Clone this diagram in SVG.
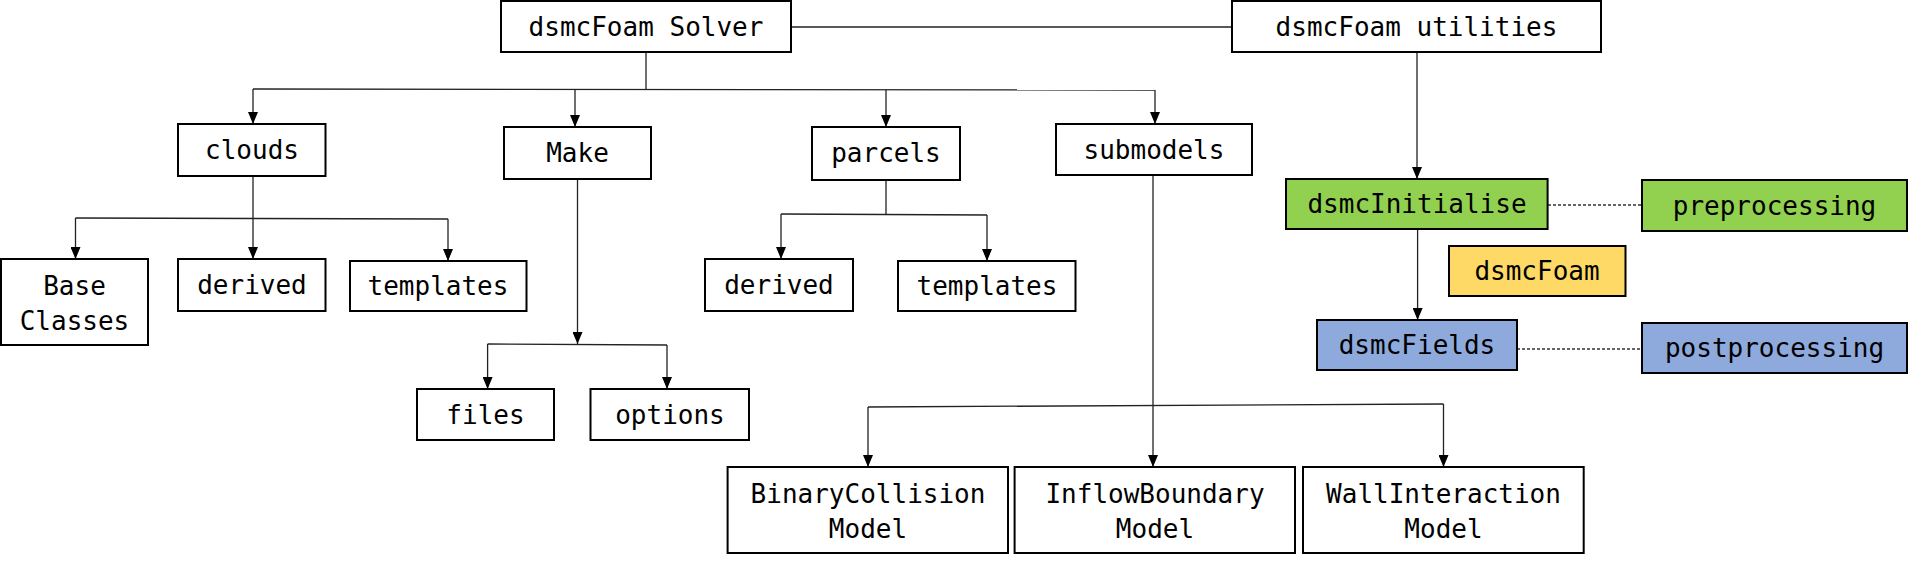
<svg xmlns="http://www.w3.org/2000/svg" width="1909" height="564" viewBox="0 0 1909 564">
<style>
.b{fill:#fff;stroke:#000;stroke-width:2}
.g{fill:#92D050;stroke:#000;stroke-width:2}
.y{fill:#FFD966;stroke:#000;stroke-width:2}
.u{fill:#8EA9DB;stroke:#000;stroke-width:2}
text{font-family:"DejaVu Sans Mono","Liberation Mono",monospace;font-size:26px;fill:#000;text-anchor:middle}
.c{fill:none;stroke:#222;stroke-width:1.3}
.a{marker-end:url(#ah)}
.d{fill:none;stroke:#333;stroke-width:1.3;stroke-dasharray:3 2}
</style>
<defs>
<marker id="ah" markerUnits="userSpaceOnUse" markerWidth="12" markerHeight="10" refX="12" refY="5" orient="auto">
<path d="M0,0 L12,5 L0,10 z" fill="#000"/>
</marker>
</defs>
<g id="connectors">
<line class="c" x1="791" y1="27" x2="1232" y2="27"/>
<line class="c" x1="646" y1="52" x2="646" y2="89"/>
<line class="c" x1="253" y1="89" x2="1155" y2="90"/>
<line class="c a" x1="253" y1="89" x2="253" y2="124"/>
<line class="c a" x1="575" y1="89" x2="575" y2="127"/>
<line class="c a" x1="886" y1="90" x2="886" y2="127"/>
<line class="c a" x1="1155" y1="90" x2="1155" y2="124"/>
<line class="c" x1="253" y1="176" x2="253" y2="218"/>
<line class="c" x1="75.5" y1="218" x2="448" y2="219"/>
<line class="c a" x1="75.5" y1="218" x2="75.5" y2="259"/>
<line class="c a" x1="253" y1="218" x2="253" y2="259"/>
<line class="c a" x1="448" y1="219" x2="448" y2="261"/>
<line class="c a" x1="577.5" y1="179" x2="577.5" y2="344"/>
<line class="c" x1="487.6" y1="344" x2="667" y2="345"/>
<line class="c a" x1="487.6" y1="344" x2="487.6" y2="389"/>
<line class="c a" x1="667" y1="345" x2="667" y2="389"/>
<line class="c" x1="886" y1="180" x2="886" y2="214"/>
<line class="c" x1="781" y1="214" x2="987" y2="215"/>
<line class="c a" x1="781" y1="214" x2="781" y2="259"/>
<line class="c a" x1="987" y1="215" x2="987" y2="261"/>
<line class="c a" x1="1153" y1="175" x2="1153" y2="467"/>
<line class="c" x1="868" y1="407" x2="1443.5" y2="404"/>
<line class="c a" x1="868" y1="407" x2="868" y2="467"/>
<line class="c a" x1="1443.5" y1="404" x2="1443.5" y2="467"/>
<line class="c a" x1="1417" y1="52" x2="1417" y2="179"/>
<line class="c a" x1="1417.6" y1="229" x2="1417.6" y2="320"/>
<line class="d" x1="1548" y1="205" x2="1642" y2="205"/>
<line class="d" x1="1517" y1="349" x2="1642" y2="349"/>
</g>
<g id="solver"><rect class="b" x="501" y="1" width="290" height="51"/><text x="646" y="36">dsmcFoam Solver</text></g>
<g id="utilities"><rect class="b" x="1232" y="1" width="369" height="51"/><text x="1416.5" y="36">dsmcFoam utilities</text></g>
<g id="clouds"><rect class="b" x="178" y="124" width="147.5" height="52"/><text x="252" y="159">clouds</text></g>
<g id="make"><rect class="b" x="504" y="127" width="147" height="52"/><text x="577.5" y="162">Make</text></g>
<g id="parcels"><rect class="b" x="812" y="127" width="148" height="53"/><text x="886" y="162">parcels</text></g>
<g id="submodels"><rect class="b" x="1056" y="124" width="196" height="51"/><text x="1154" y="159">submodels</text></g>
<g id="baseclasses"><rect class="b" x="1" y="259" width="147" height="86"/><text x="74.5" y="295">Base</text><text x="74.5" y="330">Classes</text></g>
<g id="cderived"><rect class="b" x="178" y="259" width="147.5" height="52"/><text x="252" y="294">derived</text></g>
<g id="ctemplates"><rect class="b" x="350" y="261" width="176.5" height="50"/><text x="438" y="295">templates</text></g>
<g id="pderived"><rect class="b" x="705" y="259" width="148" height="52"/><text x="779" y="294">derived</text></g>
<g id="ptemplates"><rect class="b" x="898" y="261" width="177.5" height="50"/><text x="987" y="295">templates</text></g>
<g id="files"><rect class="b" x="417" y="389" width="137" height="51"/><text x="485.5" y="424">files</text></g>
<g id="options"><rect class="b" x="590.5" y="389" width="158.5" height="51"/><text x="670" y="424">options</text></g>
<g id="binary"><rect class="b" x="727.6" y="467" width="280.4" height="86"/><text x="868" y="503">BinaryCollision</text><text x="868" y="538">Model</text></g>
<g id="inflow"><rect class="b" x="1014.6" y="467" width="280.4" height="86"/><text x="1155" y="503">InflowBoundary</text><text x="1155" y="538">Model</text></g>
<g id="wall"><rect class="b" x="1303" y="467" width="280.7" height="86"/><text x="1443.5" y="503">WallInteraction</text><text x="1443.5" y="538">Model</text></g>
<g id="initialise"><rect class="g" x="1286" y="179" width="261.6" height="50"/><text x="1417" y="213">dsmcInitialise</text></g>
<g id="preprocessing"><rect class="g" x="1642" y="180" width="265" height="51"/><text x="1774.5" y="215">preprocessing</text></g>
<g id="dsmcfoam"><rect class="y" x="1449" y="246" width="176.5" height="50"/><text x="1537" y="280">dsmcFoam</text></g>
<g id="fields"><rect class="u" x="1317" y="320" width="200" height="50"/><text x="1417" y="354">dsmcFields</text></g>
<g id="postprocessing"><rect class="u" x="1642" y="323" width="265" height="50"/><text x="1774.5" y="357">postprocessing</text></g>
</svg>
